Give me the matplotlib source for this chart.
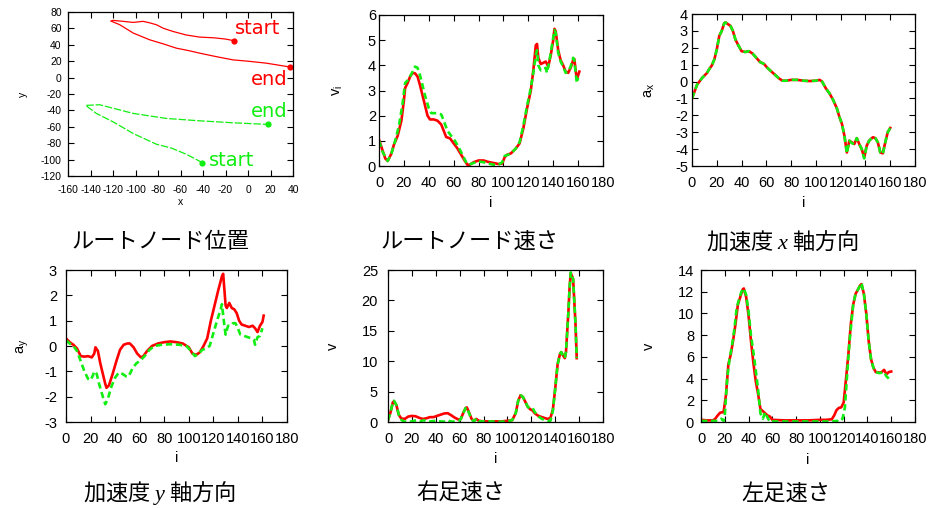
import matplotlib
matplotlib.use('Agg')
import matplotlib.pyplot as plt

plt.rcParams['font.family'] = ['Liberation Sans', 'DejaVu Sans']
plt.rcParams['mathtext.fontset'] = 'custom'
plt.rcParams['mathtext.it'] = 'Liberation Serif:italic'
plt.rcParams['mathtext.rm'] = 'Liberation Sans'
plt.rcParams['axes.unicode_minus'] = False

RED = '#ff0000'
GREEN = '#11ee11'

# ---------------- data ----------------
# Panel 1: root node position (x, y)
pos_red_x = [-12.4, -20, -30, -43, -55, -66.7, -75, -81.5, -88, -93.3, -102, -111, -120, -122, -114, -102, -87.4, -75, -63.7, -53, -43, -28, -13.3, 0, 16.3, 37]
pos_red_y = [45, 47, 48.5, 49.4, 52, 56.3, 60, 64.5, 67, 68.6, 67.3, 68.6, 69.8, 69, 64.5, 54.3, 46.1, 41, 35.9, 33, 29.8, 25.5, 21.6, 20, 17.6, 13]
pos_green_x = [-40.6, -54.8, -68, -81.5, -102, -120, -134.8, -144.3, -131.9, -102, -72.6, -43, -13.3, 17.8]
pos_green_y = [-103.7, -93.5, -86, -81.2, -68.2, -53.9, -43.7, -33.9, -33.1, -43.7, -49.8, -52.7, -55.1, -57.1]
pos_labels = ['start', 'end', 'end', 'start']

# Panel 2: root node speed v_i
vi_red_i = [0, 3, 5, 7, 10, 12, 15, 18, 20, 21, 23, 25, 27, 29, 31, 33, 35, 37, 39, 41, 44, 47, 50, 52, 54, 57, 60, 63, 66, 69, 71, 73, 76, 80, 84, 88, 92, 96, 99, 101, 103, 106, 110, 113, 116, 119, 122, 124, 126, 127, 128, 130, 132, 134, 136, 138, 140, 141, 142, 144, 146, 148, 150, 152, 154, 156, 157, 158, 159, 161]
vi_red_v = [1.05, 0.6, 0.3, 0.2, 0.5, 0.85, 1.2, 1.8, 2.6, 3.1, 3.3, 3.55, 3.7, 3.68, 3.55, 3.2, 2.8, 2.4, 2.0, 1.85, 1.85, 1.8, 1.65, 1.4, 1.15, 1.1, 0.9, 0.7, 0.45, 0.2, 0.05, 0.05, 0.15, 0.22, 0.22, 0.16, 0.12, 0.08, 0.1, 0.35, 0.45, 0.5, 0.7, 0.9, 1.5, 2.3, 3.0, 3.8, 4.8, 4.85, 4.3, 4.05, 4.1, 4.15, 3.95, 4.4, 5.0, 5.45, 5.35, 4.6, 4.2, 4.0, 3.75, 3.7, 3.9, 4.2, 4.25, 3.8, 3.45, 3.75]
vi_green_i = [0, 3, 7, 10, 13, 16, 19, 21, 23, 26, 29, 31, 33, 35, 37, 40, 42, 46, 50, 52, 55, 58, 61, 64, 67, 70, 72, 76, 80, 84, 88, 92, 96, 99, 101, 104, 107, 110, 113, 116, 119, 122, 124, 126, 127, 128, 130, 132, 134, 135, 137, 139, 141, 142, 144, 146, 148, 150, 152, 154, 156, 157, 158, 159, 160]
vi_green_v = [1.0, 0.55, 0.2, 0.5, 1.0, 1.6, 2.5, 3.3, 3.4, 3.65, 3.95, 3.9, 3.6, 3.2, 2.8, 2.3, 2.1, 2.1, 2.05, 1.8, 1.4, 1.2, 1.0, 0.75, 0.45, 0.15, 0.05, 0.12, 0.18, 0.15, 0.1, 0.05, 0.05, 0.15, 0.4, 0.45, 0.55, 0.7, 0.95, 1.6, 2.4, 3.1, 3.7, 4.4, 4.6, 4.0, 3.8, 3.85, 3.9, 3.7, 4.2, 4.8, 5.4, 5.3, 4.5, 4.15, 3.95, 3.7, 3.75, 3.95, 4.3, 4.2, 3.7, 3.3, 3.5]

# Panel 3: acceleration x
ax_red_i = [0, 2, 4, 6, 8, 10, 12, 14, 16, 18, 20, 22, 24, 26, 27, 29, 31, 33, 35, 37, 40, 43, 46, 49, 52, 55, 58, 61, 64, 67, 70, 73, 76, 80, 85, 90, 95, 100, 103, 105, 108, 111, 114, 117, 119, 121, 123, 125, 127, 129, 131, 133, 135, 137, 139, 141, 143, 146, 148, 150, 152, 154, 156, 158, 160]
ax_red_a = [-1.0, -0.6, -0.2, 0.0, 0.2, 0.35, 0.5, 0.75, 0.95, 1.3, 1.9, 2.7, 3.0, 3.45, 3.5, 3.4, 3.3, 3.0, 2.5, 2.2, 1.8, 1.75, 1.8, 1.65, 1.4, 1.15, 1.05, 0.8, 0.6, 0.4, 0.2, 0.05, 0.05, 0.1, 0.1, 0.05, 0.03, 0.05, 0.1, 0.0, -0.4, -0.7, -1.1, -1.6, -2.1, -2.5, -3.2, -4.2, -3.5, -3.6, -3.7, -3.35, -3.7, -4.0, -4.5, -3.8, -3.5, -3.3, -3.35, -3.6, -4.2, -4.25, -3.6, -3.0, -2.75]
ax_green_i = [0, 2, 4, 6, 8, 10, 12, 14, 16, 18, 20, 22, 24, 26, 27, 29, 31, 33, 35, 37, 40, 43, 46, 49, 52, 55, 58, 61, 64, 67, 70, 73, 76, 80, 85, 90, 95, 100, 103, 105, 108, 111, 114, 117, 119, 121, 123, 125, 127, 129, 131, 133, 135, 137, 139, 141, 143, 146, 148, 150, 152, 154, 156, 158, 160]
ax_green_a = [-1.0, -0.6, -0.2, 0.0, 0.2, 0.35, 0.5, 0.75, 0.95, 1.3, 1.9, 2.7, 3.0, 3.45, 3.5, 3.4, 3.3, 3.0, 2.5, 2.2, 1.8, 1.75, 1.8, 1.65, 1.4, 1.15, 1.05, 0.8, 0.6, 0.4, 0.2, 0.05, 0.05, 0.1, 0.1, 0.05, 0.03, 0.05, 0.1, 0.0, -0.4, -0.7, -1.1, -1.6, -2.1, -2.5, -3.2, -4.25, -3.5, -3.65, -3.7, -3.35, -3.7, -4.0, -4.55, -3.8, -3.5, -3.3, -3.35, -3.6, -4.2, -4.3, -3.6, -3.0, -2.75]

# Panel 4: acceleration y
ay_red_i = [0, 3, 6, 9, 12, 15, 18, 21, 23, 24, 26, 28, 30, 32, 33, 35, 38, 41, 44, 47, 50, 52, 55, 58, 61, 63, 66, 70, 75, 80, 85, 90, 95, 100, 103, 106, 109, 112, 115, 118, 121, 124, 127, 128, 130, 131, 133, 135, 137, 139, 141, 143, 146, 149, 152, 154, 156, 158, 160, 161]
ay_red_a = [0.3, 0.15, 0.05, -0.1, -0.4, -0.42, -0.4, -0.45, -0.3, -0.05, -0.2, -0.7, -1.1, -1.5, -1.65, -1.55, -1.1, -0.6, -0.15, 0.05, 0.1, 0.1, -0.05, -0.3, -0.45, -0.4, -0.2, 0.0, 0.1, 0.15, 0.18, 0.15, 0.1, -0.05, -0.3, -0.35, -0.25, 0.0, 0.3, 1.0, 1.6, 2.2, 2.75, 2.85, 1.6, 1.5, 1.7, 1.5, 1.45, 1.3, 1.0, 0.85, 0.8, 0.75, 0.8, 0.7, 0.55, 0.8, 0.95, 1.2]
ay_green_i = [0, 3, 6, 9, 12, 15, 18, 20, 22, 23, 25, 27, 30, 32, 34, 37, 40, 43, 46, 49, 51, 54, 57, 61, 64, 68, 72, 78, 85, 92, 98, 102, 105, 108, 111, 114, 117, 120, 123, 126, 127, 129, 130, 132, 134, 136, 138, 140, 142, 145, 148, 151, 153, 154, 156, 158, 160]
ay_green_a = [0.22, 0.1, 0.0, -0.2, -0.6, -1.0, -1.3, -1.35, -1.15, -1.0, -1.1, -1.5, -2.0, -2.3, -2.1, -1.6, -1.25, -1.05, -1.1, -1.2, -1.2, -0.9, -0.7, -0.55, -0.4, -0.15, 0.0, 0.05, 0.07, 0.05, 0.0, -0.2, -0.4, -0.3, -0.15, -0.1, 0.0, 0.5, 1.0, 1.45, 1.65, 0.8, 0.45, 0.8, 0.8, 0.9, 0.9, 0.7, 0.45, 0.4, 0.35, 0.3, 0.25, 0.05, 0.35, 0.4, 0.7]

# Panel 5: right foot speed
rf_red_i = [0, 2, 4, 5, 7, 9, 11, 14, 17, 20, 23, 26, 29, 32, 35, 38, 41, 44, 47, 50, 53, 56, 59, 61, 63, 65, 66, 68, 70, 72, 74, 76, 80, 85, 90, 95, 100, 104, 107, 109, 111, 113, 115, 117, 119, 121, 123, 126, 129, 132, 134, 136, 138, 140, 142, 144, 145, 147, 148, 149, 151, 152, 153, 155, 157, 158]
rf_red_v = [0.3, 1.5, 3.2, 3.4, 2.8, 1.2, 0.6, 0.5, 0.9, 1.0, 0.95, 0.7, 0.5, 0.6, 0.8, 0.8, 1.0, 1.2, 1.4, 1.45, 1.1, 0.7, 0.4, 0.5, 1.5, 2.3, 2.4, 1.5, 0.5, 0.2, 0.5, 0.2, 0.1, 0.1, 0.1, 0.1, 0.2, 0.3, 1.5, 3.5, 4.4, 4.1, 3.3, 2.5, 2.1, 1.9, 1.4, 1.0, 0.8, 0.6, 0.5, 0.7, 2.0, 5.5, 9.5, 11.2, 11.5, 10.8, 10.5, 11.5, 18, 22, 24.5, 23.5, 16, 10.5]
rf_green_i = [0, 2, 4, 5, 7, 9, 11, 13, 16, 20, 24, 27, 30, 33, 36, 40, 44, 47, 50, 52, 56, 59, 61, 63, 65, 66, 68, 70, 72, 74, 76, 80, 85, 90, 95, 100, 104, 107, 109, 111, 113, 115, 117, 119, 121, 123, 126, 129, 132, 134, 136, 138, 140, 142, 144, 145, 147, 148, 149, 151, 152, 153, 155, 157, 158]
rf_green_v = [0.3, 1.5, 3.2, 3.5, 2.8, 1.2, 0.4, 0.1, 0.05, 0.1, 0.3, 0.1, 0.3, 0.05, 0.1, 0.2, 0.1, 0.05, 0.3, 0.1, 0.05, 0.1, 0.5, 1.5, 2.3, 2.4, 1.4, 0.4, 0.1, 0.6, 0.1, 0.1, 0.1, 0.05, 0.05, 0.1, 0.3, 1.5, 3.5, 4.4, 4.1, 3.3, 2.5, 2.2, 2.3, 1.6, 0.9, 0.5, 0.3, 0.2, 0.2, 1.8, 5.5, 9.5, 11.2, 11.5, 10.8, 10.5, 11.5, 18, 22, 24.6, 23.5, 16, 10.5]

# Panel 6: left foot speed
lf_red_i = [0, 5, 10, 12, 14, 16, 18, 19, 21, 23, 25, 27, 29, 31, 33, 35, 36, 38, 40, 42, 44, 46, 48, 50, 52, 54, 56, 58, 60, 70, 80, 90, 100, 105, 110, 112, 114, 116, 118, 120, 122, 124, 126, 128, 130, 132, 134, 135, 137, 139, 141, 143, 145, 147, 150, 152, 154, 156, 158, 160]
lf_red_v = [0.2, 0.15, 0.15, 0.3, 0.6, 0.85, 0.9, 0.9, 2.5, 5.3, 6.2, 7.5, 9.0, 10.8, 11.5, 12.2, 12.3, 11.5, 9.8, 7.5, 5.5, 3.8, 2.6, 1.2, 1.0, 0.8, 0.6, 0.5, 0.2, 0.15, 0.15, 0.15, 0.2, 0.2, 0.25, 0.6, 1.1, 1.3, 1.35, 1.8, 4.0, 6.3, 9.0, 10.8, 11.8, 12.2, 12.6, 12.7, 11.8, 10.0, 7.5, 5.8, 5.0, 4.6, 4.55, 4.6, 4.8, 4.4, 4.6, 4.65]
lf_green_i = [0, 5, 10, 14, 17, 19, 20, 22, 24, 26, 28, 30, 32, 34, 36, 38, 40, 42, 44, 46, 48, 50, 52, 54, 56, 58, 60, 70, 80, 90, 100, 110, 114, 117, 119, 121, 123, 125, 128, 130, 132, 134, 135, 137, 139, 141, 143, 145, 147, 150, 154, 156, 158, 160]
lf_green_v = [0.1, 0.1, 0.1, 0.1, 0.3, 0.1, 0.6, 4.0, 5.8, 7.0, 8.5, 10.5, 11.3, 12.0, 12.3, 11.7, 10.2, 8.0, 6.5, 4.8, 3.0, 0.8, 0.3, 0.9, 0.4, 0.0, 0.05, 0.05, 0.05, 0.05, 0.05, 0.05, 0.1, 0.05, 0.3, 1.3, 4.5, 7.5, 10.8, 11.8, 12.2, 12.6, 12.8, 11.8, 10.0, 7.5, 5.8, 5.0, 4.6, 4.5, 4.6, 4.2, 4.0, 4.2]

captions = ['ルートノード位置', 'ルートノード速さ', '加速度 $x$ 軸方向',
            '加速度 $y$ 軸方向', '右足速さ', '左足速さ']

# ---------------- figure ----------------
fig = plt.figure(figsize=(9.46, 5.08), dpi=100)

def style(ax, fs, ypad, xpad=7):
    ax.tick_params(direction='in', top=True, right=True, length=4, width=0.8,
                   labelsize=fs, colors='black')
    ax.tick_params(axis='y', pad=ypad)
    ax.tick_params(axis='x', pad=xpad)
    for s in ax.spines.values():
        s.set_linewidth(0.9)

LW = 1.9
DASH = (0, (2.4, 1.4))

# Panel 1
a1 = fig.add_axes([68/946, 1-176/508, 225/946, 164/508])
a1.plot(pos_red_x, pos_red_y, color=RED, lw=0.9)
a1.plot(pos_green_x, pos_green_y, color=GREEN, lw=0.9, linestyle=(0, (6, 1.5)))
a1.plot([pos_red_x[0], pos_red_x[-1]], [pos_red_y[0], pos_red_y[-1]], 'o', color=RED, ms=4.5, mec='none')
a1.plot([pos_green_x[0], pos_green_x[-1]], [pos_green_y[0], pos_green_y[-1]], 'o', color=GREEN, ms=4.5, mec='none')
a1.text(-12, 60, pos_labels[0], color=RED, fontsize=14, family='DejaVu Sans', ha='left', va='center', clip_on=False)
a1.text(35, -2, pos_labels[1], color=RED, fontsize=14, family='DejaVu Sans', ha='right', va='center', clip_on=False)
a1.text(35, -41, pos_labels[2], color=GREEN, fontsize=14, family='DejaVu Sans', ha='right', va='center', clip_on=False)
a1.text(-35, -101, pos_labels[3], color=GREEN, fontsize=14, family='DejaVu Sans', ha='left', va='center', clip_on=False)
a1.set_xlim(-160, 40)
a1.set_ylim(-120, 80)
a1.set_xticks(range(-160, 41, 20))
a1.set_yticks(range(-120, 81, 20))
style(a1, 7.5, 4.5, 6.5)
a1.set_xlabel('x', fontsize=7.5)
a1.set_ylabel('y', fontsize=7.5)
a1.xaxis.set_label_coords(0.5, -0.13)
a1.yaxis.set_label_coords(-0.18, 0.5)

def series_panel(rect, ri, rv, gi, gv, ylim, yticks, ylabel, ypad, ylx, xly):
    a = fig.add_axes(rect)
    a.plot(ri, rv, color=RED, lw=LW)
    a.plot(gi, gv, color=GREEN, lw=LW, linestyle=DASH)
    a.set_xlim(0, 180)
    a.set_ylim(*ylim)
    a.set_xticks(range(0, 181, 20))
    a.set_yticks(yticks)
    style(a, 10.5, ypad)
    a.set_xlabel('i', fontsize=10.5)
    a.set_ylabel(ylabel, fontsize=10.5)
    a.xaxis.set_label_coords(0.5, xly)
    a.yaxis.set_label_coords(ylx, 0.5)
    return a

series_panel([379/946, 1-166/508, 224/946, 151/508], vi_red_i, vi_red_v, vi_green_i, vi_green_v,
             (0, 6), range(0, 7), r'$\mathregular{v_i}$', 2.2, -0.15, -0.2)
series_panel([692/946, 1-166/508, 223/946, 152/508], ax_red_i, ax_red_a, ax_green_i, ax_green_a,
             (-5, 4), range(-5, 5), r'$\mathregular{a_x}$', 2.9, -0.155, -0.2)
series_panel([66/946, 1-422/508, 221/946, 152/508], ay_red_i, ay_red_a, ay_green_i, ay_green_a,
             (-3, 3), range(-3, 4), r'$\mathregular{a_y}$', 6.5, -0.16, -0.19)
series_panel([388/946, 1-422/508, 215/946, 152/508], rf_red_i, rf_red_v, rf_green_i, rf_green_v,
             (0, 25), range(0, 26, 5), 'v', 7.2, -0.225, -0.2)
series_panel([701/946, 1-422/508, 214/946, 152/508], lf_red_i, lf_red_v, lf_green_i, lf_green_v,
             (0, 14), range(0, 15, 2), 'v', 5, -0.21, -0.205)

cap_pos = [(161, 241), (470, 241), (783, 241), (160, 493), (461, 493), (786, 493)]
for txt, (cx, cy) in zip(captions, cap_pos):
    fig.text(cx/946, 1-cy/508, txt, ha='center', va='center', fontsize=16,
             family=['Noto Sans CJK JP', 'DejaVu Sans'])

fig.savefig('out.png', dpi=100)
